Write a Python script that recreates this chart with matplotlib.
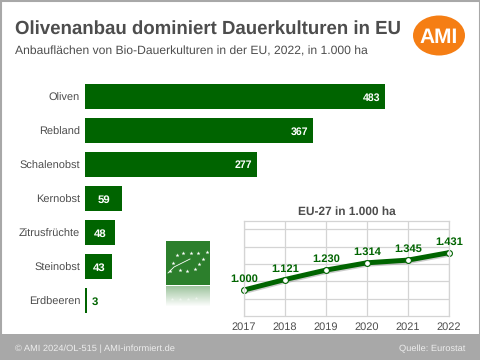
import numpy as np
import matplotlib
matplotlib.use('Agg')
import matplotlib.pyplot as plt
from matplotlib.patches import Ellipse, Rectangle
import matplotlib.patheffects as pe

plt.rcParams['font.family'] = ['Liberation Sans', 'DejaVu Sans']
plt.rcParams['text.hinting'] = 'none'

crops = ['Oliven', 'Rebland', 'Schalenobst', 'Kernobst', 'Zitrusfrüchte', 'Steinobst', 'Erdbeeren']
area = [483, 367, 277, 59, 48, 43, 3]
years = ['2017', '2018', '2019', '2020', '2021', '2022']
total = [1000, 1121, 1230, 1314, 1345, 1431]
total_labels = ['1.000', '1.121', '1.230', '1.314', '1.345', '1.431']

W, H = 480, 360
GREEN = '#006400'
TXT = '#4d4d4d'


def axes_px(x0, y0, x1, y1, **kw):
    return fig.add_axes([x0 / W, 1 - y1 / H, (x1 - x0) / W, (y1 - y0) / H], **kw)


fig = plt.figure(figsize=(4.8, 3.6), dpi=100, facecolor='white')

# background, footer, frame, logo
bg = axes_px(0, 0, W, H)
bg.set_xlim(0, W)
bg.set_ylim(H, 0)
bg.axis('off')
bg.add_patch(Rectangle((0, 334), W, 26, color='#a8a8a8', lw=0))
bg.add_patch(Rectangle((0.5, 0.5), W - 1, H - 1, fill=False, ec='#a8a8a8', lw=1.5))
bg.add_patch(Ellipse((439, 35.5), 52, 40, color='#f57e14', lw=0))
bg.text(439, 35.5, 'AMI', color='white', fontsize=15, fontweight='bold', ha='center', va='center_baseline')
bg.text(15, 27, 'Olivenanbau dominiert Dauerkulturen in EU', color=TXT, fontsize=13.45,
        fontweight='bold', va='center_baseline')
bg.text(15, 50, 'Anbauflächen von Bio-Dauerkulturen in der EU, 2022, in 1.000 ha', color=TXT,
        fontsize=8.7, va='center_baseline')
bg.text(15, 348, '© AMI 2024/OL-515 | AMI-informiert.de', color='#ededed', fontsize=6.7, va='center_baseline')
bg.text(465, 348, 'Quelle: Eurostat', color='#ededed', fontsize=6.7, va='center_baseline', ha='right')

# bars
ax = axes_px(85, 79.5, 445, 317.5)
ax.patch.set_alpha(0)
ax.set_xlim(0, 360 / 0.621)
ax.set_ylim(6.5, -0.5)
ax.axis('off')
pos = np.arange(len(crops))
ax.barh(pos, area, height=0.76, color=GREEN, lw=0,
        path_effects=[pe.SimpleLineShadow(offset=(1.2, -1.2), shadow_color='#777777', alpha=0.6),
                      pe.Normal()])
for i, (name, v) in enumerate(zip(crops, area)):
    ax.text(-8, i, name, color=TXT, fontsize=7.9, ha='right', va='center_baseline')
    if v > 100:
        ax.text(v - 7, i, str(v), color='white', fontsize=7.6, fontweight='bold', ha='right', va='center_baseline')
    elif v > 10:
        ax.text(v / 2 + 1, i, str(v), color='white', fontsize=8.2, fontweight='bold', ha='center', va='center_baseline')
    else:
        ax.text(v + 8, i, str(v), color=GREEN, fontsize=8.2, fontweight='bold', ha='left', va='center_baseline')

# organic leaf logo
logo = axes_px(166, 241, 210, 307)
logo.axis('off')
logo.add_patch(Rectangle((0, 0), 44, 44, color='#2c7f2c', lw=0))
fade = np.ones((22, 1, 4))
fade[:, :, :3] = matplotlib.colors.to_rgb('#2c7f2c')
fade[:, 0, 3] = np.linspace(0.45, 0, 22)
logo.imshow(fade, extent=(0, 44, 66, 45), aspect='auto', zorder=1)
logo.set_xlim(0, 44)
logo.set_ylim(66, 0)
star_x = [41, 32, 25, 17, 11, 7, 4, 14, 21, 29, 33, 37]
star_y = [11, 12, 12, 12, 14, 22, 30, 29, 30, 28, 23, 18]
logo.scatter(star_x, star_y, marker='*', s=9, color='white', lw=0, zorder=2)
logo.plot([2, 8, 16, 24], [32, 26, 22, 18], color='white', lw=0.6, zorder=2)
logo.scatter([6, 14, 22, 30], [58, 58, 58, 57], marker='*', s=7, color='white', alpha=0.5, lw=0, zorder=2)

# line inset
lx = axes_px(244, 220.7, 449, 316)
lx.patch.set_alpha(0)
xs = np.arange(len(years))
lx.set_xlim(0, 5)
lx.set_ylim(700, 1800)
lx.set_xticks(xs)
lx.set_xticklabels(years, color=TXT, fontsize=7.9)
lx.set_yticks([900, 1100, 1300, 1500, 1700])
lx.tick_params(length=0, labelleft=False, pad=4)
lx.grid(color='#d4d4d4', lw=0.9)
lx.set_axisbelow(True)
for s in lx.spines.values():
    s.set_color('#d4d4d4')
    s.set_linewidth(0.9)
lx.plot(xs, total, color=GREEN, lw=3.6, clip_on=False, solid_capstyle='butt',
        path_effects=[pe.SimpleLineShadow(offset=(0.5, -1), shadow_color='#999999', alpha=0.5), pe.Normal()])
lx.plot(xs, total, ls='none', marker='o', ms=4.2, mfc='white', mec=GREEN, mew=0.8, clip_on=False)
for x, v, t in zip(xs, total, total_labels):
    lx.annotate(t, (x, v), xytext=(0, 4), textcoords='offset points', color=GREEN, fontsize=8,
                fontweight='bold', ha='center', va='bottom', annotation_clip=False)
lx.set_title('EU-27 in 1.000 ha', color=TXT, fontsize=8.6, fontweight='bold', pad=4)

fig.savefig('out.png', dpi=100)
